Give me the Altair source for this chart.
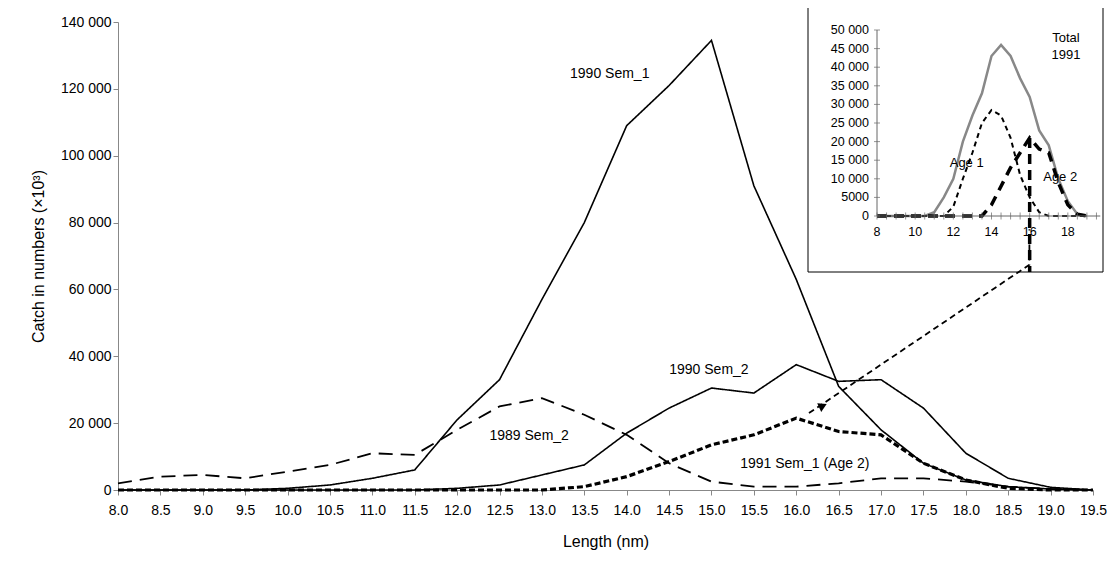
import altair as alt
import pandas as pd

# main chart data
lengths = [8.0 + 0.5 * i for i in range(24)]
sem1_1990 = [0, 0, 0, 0, 500, 1500, 3500, 6000, 21000, 33000, 57000, 80000,
             109000, 121000, 134500, 91000, 63000, 31000, 18000, 8000, 3000, 1000, 300, 0]
sem2_1990 = [0, 0, 0, 0, 0, 0, 0, 0, 500, 1500, 4500, 7500,
             17000, 24500, 30500, 29000, 37500, 32500, 33000, 24500, 11000, 3500, 800, 0]
sem2_1989 = [2000, 4000, 4500, 3500, 5500, 7500, 11000, 10500, 18000, 25000, 27500, 22500,
             16500, 8000, 2500, 1000, 1000, 2000, 3500, 3500, 2500, 1000, 300, 0]
sem1_1991_age2 = [0, 0, 0, 0, 0, 0, 0, 0, 0, 0, 0, 1000,
                  4000, 8500, 13500, 16500, 21500, 17500, 16500, 8000, 3000, 500, 0, 0]

# inset data
inset_len = [8.0 + 0.5 * i for i in range(23)]
total_1991 = [0, 0, 0, 0, 0, 0, 1000, 5000, 10000, 20000, 27000, 33000, 43000, 46000,
              43000, 37000, 32000, 23000, 19000, 10000, 4000, 500, 0]
age1_1991 = [0, 0, 0, 0, 0, 0, 0, 0, 2500, 10000, 17000, 25000, 28500, 27000,
             21000, 11000, 5000, 1000, 0, 0, 0, 0, 0]
age2_1991 = [0, 0, 0, 0, 0, 0, 0, 0, 0, 0, 0, 0, 3000, 8000,
             13000, 17000, 21000, 18000, 17000, 9000, 3000, 500, 0]

FONT = "Liberation Sans"

main_df = pd.concat([
    pd.DataFrame({"len": lengths, "catch": v, "series": s})
    for s, v in [("1990 Sem_1", sem1_1990), ("1990 Sem_2", sem2_1990),
                 ("1989 Sem_2", sem2_1989), ("1991 Sem_1 (Age 2)", sem1_1991_age2)]
])
inset_df = pd.concat([
    pd.DataFrame({"len": inset_len, "catch": v, "series": s})
    for s, v in [("Total", total_1991), ("Age 1", age1_1991), ("Age 2", age2_1991)]
])

label_expr = "replace(format(datum.value, ','), ',', ' ')"
x_main = alt.X("len:Q", title="Length (nm)",
               scale=alt.Scale(domain=[8, 19.5], nice=False),
               axis=alt.Axis(values=lengths, format=".1f", grid=False, labelFlush=False,
                             domainColor="#888", tickColor="#888", labelPadding=8,
                             titlePadding=16))
y_main = alt.Y("catch:Q", title="Catch in numbers (×10³)",
               scale=alt.Scale(domain=[0, 140000], nice=False),
               axis=alt.Axis(values=list(range(0, 140001, 20000)), labelExpr=label_expr,
                             grid=False, domainColor="#888", tickColor="#888",
                             titlePadding=14))

base = alt.Chart(main_df)


def series_line(name, dash, width):
    return base.mark_line(color="black", strokeDash=dash, strokeWidth=width).encode(
        x=x_main, y=y_main).transform_filter(alt.datum.series == name)


main_lines = [
    series_line("1990 Sem_1", [1, 0], 1.6),
    series_line("1990 Sem_2", [1, 0], 1.6),
    series_line("1989 Sem_2", [14, 8], 1.8),
    series_line("1991 Sem_1 (Age 2)", [6, 3], 3.2),
]

labels = pd.DataFrame({
    "x": [13.8, 14.97, 12.85, 16.1],
    "y": [124400, 36000, 16200, 7800],
    "t": ["1990 Sem_1", "1990 Sem_2", "1989 Sem_2", "1991 Sem_1 (Age 2)"],
})
main_text = alt.Chart(labels).mark_text(font=FONT, fontSize=14, color="black").encode(
    x="x:Q", y="y:Q", text="t:N")

arrow_df = pd.DataFrame({"x": [16.15, 18.75, 18.75], "y": [23000, 67400, 78000], "o": [0, 1, 2]})
arrow = alt.Chart(arrow_df).mark_line(color="black", strokeDash=[6, 4], strokeWidth=1.8).encode(
    x="x:Q", y="y:Q", order="o:Q")
head = alt.Chart(pd.DataFrame({"x": [16.3], "y": [25000]})).mark_point(
    shape="triangle", filled=True, color="black", size=90, angle=305, opacity=1).encode(
    x="x:Q", y="y:Q")

main = alt.layer(*main_lines, main_text, arrow, head)

# inset, placed with pixel ranges inside the plot area
xs = alt.Scale(domain=[8, 20], range=[759, 988], nice=False)
ys = alt.Scale(domain=[0, 50000], range=[194, 8], nice=False)
ix = alt.X("len:Q", scale=xs, axis=None)
iy = alt.Y("catch:Q", scale=ys, axis=None)

box = alt.Chart(pd.DataFrame({"a": [0]})).mark_rect(
    fill="white", stroke="black", strokeWidth=1).encode(
    x=alt.value(690), x2=alt.value(985), y=alt.value(-19), y2=alt.value(250))

ib = alt.Chart(inset_df)
inset_total = ib.mark_line(color="#888", strokeWidth=2.5).encode(x=ix, y=iy).transform_filter(
    alt.datum.series == "Total")
inset_age1 = ib.mark_line(color="black", strokeDash=[5, 4], strokeWidth=2).encode(
    x=ix, y=iy).transform_filter(alt.datum.series == "Age 1")
inset_age2 = ib.mark_line(color="black", strokeDash=[10, 7], strokeWidth=3.5).encode(
    x=ix, y=iy).transform_filter(alt.datum.series == "Age 2")

xaxis_line = alt.Chart(pd.DataFrame({"x": [8], "x2": [19.7], "y": [0]})).mark_rule(
    color="#666").encode(x=alt.X("x:Q", scale=xs, axis=None), x2="x2:Q",
                         y=alt.Y("y:Q", scale=ys, axis=None))
yaxis_line = alt.Chart(pd.DataFrame({"x": [8], "y": [0], "y2": [50000]})).mark_rule(
    color="#666").encode(x=alt.X("x:Q", scale=xs, axis=None),
                         y=alt.Y("y:Q", scale=ys, axis=None), y2="y2:Q")

xticks = [8 + 0.5 * i for i in range(24)]
xtick_marks = alt.Chart(pd.DataFrame({"x": xticks})).mark_tick(
    color="#666", size=7, thickness=1, orient="vertical").encode(
    x=alt.X("x:Q", scale=xs, axis=None), y=alt.value(194))
ylabels = list(range(0, 50001, 5000))
ytick_marks = alt.Chart(pd.DataFrame({"y": ylabels})).mark_tick(
    color="#666", size=6, thickness=1, orient="horizontal").encode(
    y=alt.Y("y:Q", scale=ys, axis=None), x=alt.value(759))
ytick_text = alt.Chart(pd.DataFrame({"y": ylabels})).mark_text(
    font=FONT, fontSize=12.5, align="right", dx=-8).encode(
    y=alt.Y("y:Q", scale=ys, axis=None), x=alt.value(759),
    text=alt.Text("lbl:N")).transform_calculate(
    lbl="datum.y >= 10000 ? " + "replace(format(datum.y, ','), ',', ' ')" + " : format(datum.y, 'd')")
xlabels = [8, 10, 12, 14, 16, 18]
xtick_text = alt.Chart(pd.DataFrame({"x": xlabels})).mark_text(
    font=FONT, fontSize=12.5, baseline="top").encode(
    x=alt.X("x:Q", scale=xs, axis=None), y=alt.value(204), text="x:N")

inset_labels = pd.DataFrame({
    "x": [17.9, 17.9, 12.7, 17.6],
    "y": [47800, 43300, 14200, 10500],
    "t": ["Total", "1991", "Age 1", "Age 2"],
})
inset_text = alt.Chart(inset_labels).mark_text(font=FONT, fontSize=13).encode(
    x=alt.X("x:Q", scale=xs, axis=None), y=alt.Y("y:Q", scale=ys, axis=None), text="t:N")

vline = alt.Chart(pd.DataFrame({"x": [16.0], "y": [21000]})).mark_rule(
    color="black", strokeDash=[10, 6], strokeWidth=3.5).encode(
    x=alt.X("x:Q", scale=xs, axis=None), y=alt.Y("y:Q", scale=ys, axis=None),
    y2=alt.value(250))

inset = alt.layer(inset_total, inset_age1, inset_age2, xaxis_line, yaxis_line,
                  xtick_marks, ytick_marks, ytick_text, xtick_text, inset_text, vline)

chart = alt.layer(box, main, inset).resolve_scale(
    x="independent", y="independent"
).properties(
    width=975, height=468, autosize=alt.AutoSizeParams(type="none"),
    padding={"left": 110, "top": 14, "right": 14, "bottom": 60}
).configure_view(stroke=None).configure_axis(
    labelFont=FONT, titleFont=FONT, labelFontSize=14, titleFontSize=16,
    titleFontWeight="normal", labelColor="black", titleColor="black")

chart.save("out.html", embed_options={"renderer": "svg", "actions": False})
